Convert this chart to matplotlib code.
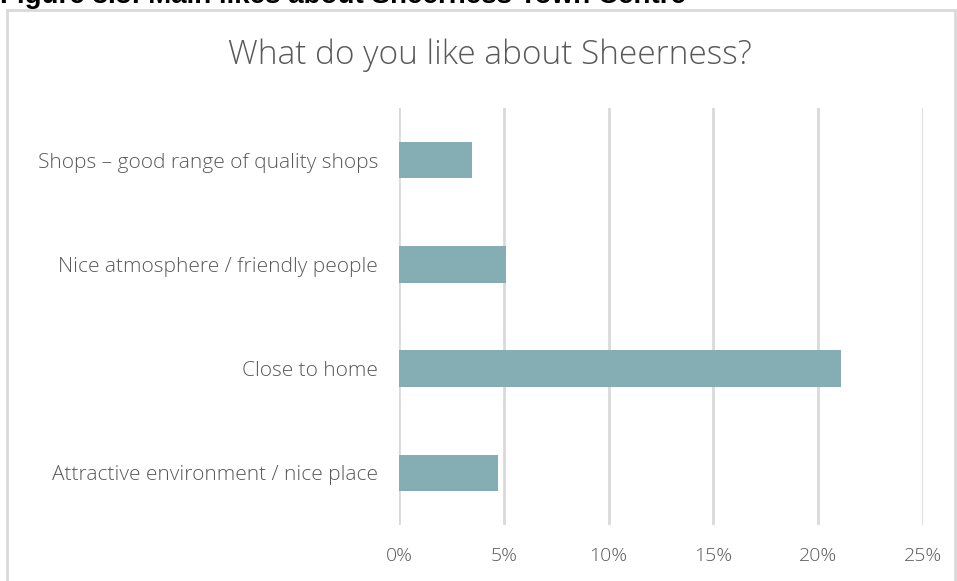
import matplotlib.pyplot as plt
from matplotlib.patches import Rectangle
from matplotlib.ticker import FuncFormatter

# survey responses (share of respondents)
categories = ['Shops – good range of quality shops',
              'Nice atmosphere / friendly people',
              'Close to home',
              'Attractive environment / nice place']
values = [3.5, 5.1, 21.1, 4.7]
ticks = [0, 5, 10, 15, 20, 25]

W, H = 957, 581
fig = plt.figure(figsize=(W / 100, H / 100), dpi=100)
plt.rcParams['font.family'] = ['Open Sans', 'DejaVu Sans']

# chart frame
fig.patches.append(Rectangle((7 / W, -0.1), (955 - 7) / W, 1.1 - 10 / H,
                             transform=fig.transFigure, fill=False,
                             edgecolor='#d9d9d9', linewidth=2))

# heading above the chart, partly cut off
fig.text(0, 1 - 3 / H, 'Figure 8.3: Main likes about Sheerness Town Centre',
         fontsize=20, fontweight='bold', color='black',
         family=['Liberation Sans'], va='baseline', ha='left')

ax = fig.add_axes([399 / W, 1 - 525 / H, (923 - 399) / W, (525 - 108) / H])
y = range(len(categories))
ax.barh(y, values, height=0.35, color='#84aeb3')
ax.set_ylim(len(categories) - 0.5, -0.5)
ax.set_xlim(0, 25)
ax.set_xticks(ticks)
ax.xaxis.set_major_formatter(FuncFormatter(lambda v, p: f'{v:.0f}%'))
ax.set_yticks(list(y))
ax.set_yticklabels(categories)
ax.grid(axis='x', color='#d9d9d9', linewidth=2)
ax.set_axisbelow(True)
for s in ax.spines.values():
    s.set_visible(False)
ax.tick_params(length=0, labelsize=14, labelcolor='#595959')
ax.tick_params(axis='x', pad=16)
ax.tick_params(axis='y', pad=15)
for lbl in ax.get_yticklabels():
    lbl.set_fontsize(15)
    lbl.set_fontweight('light')
for lbl in ax.get_xticklabels():
    lbl.set_fontweight('light')

fig.text(490 / W, 1 - 55 / H, 'What do you like about Sheerness?',
         fontsize=24, fontweight='light', color='#595959',
         ha='center', va='center')

fig.savefig('out.png', dpi=100)
